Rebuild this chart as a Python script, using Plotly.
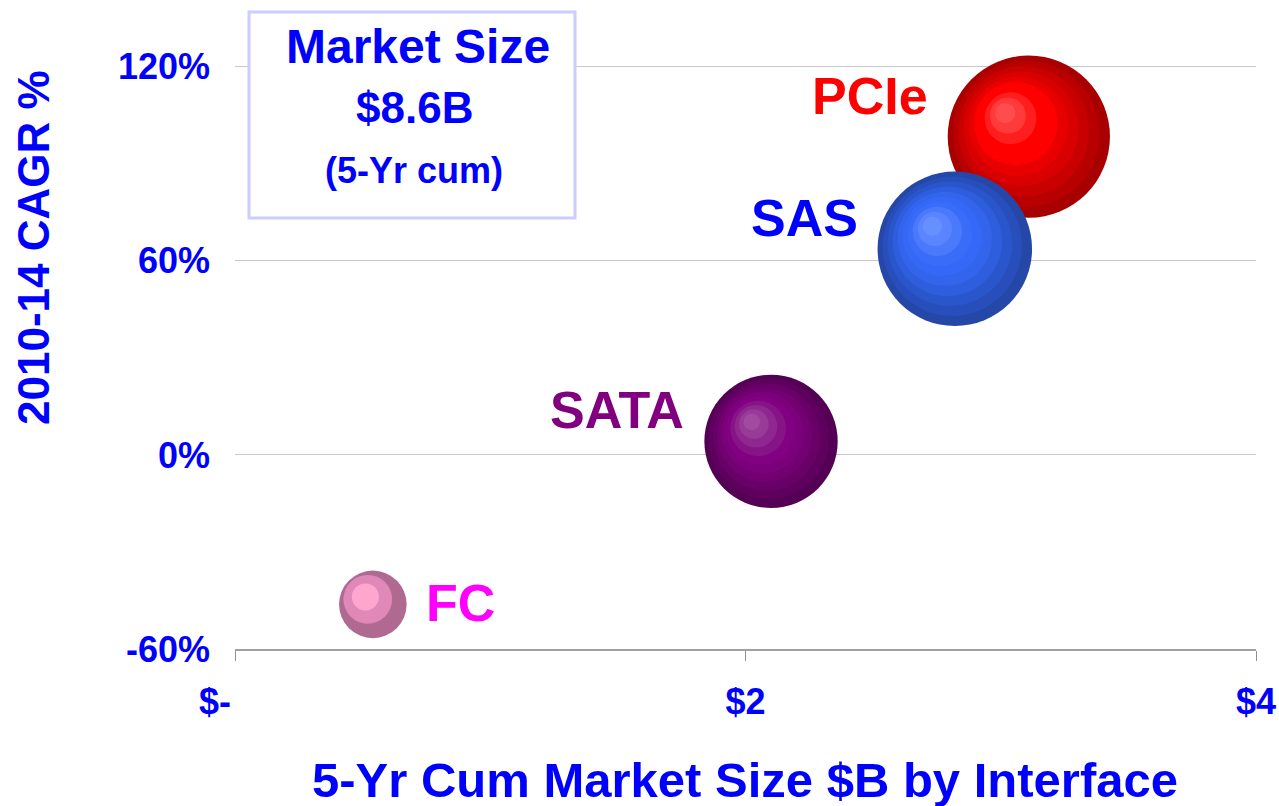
import math
import plotly.graph_objects as go

# ---------------- data ----------------
interfaces = ["PCIe", "SAS", "SATA", "FC"]
market_size_b = [3.11, 2.82, 2.10, 0.54]      # 5-yr cumulative market size, $B (x and bubble size)
cagr_pct = [98.4, 63.7, 4.2, -46.2]           # 2010-14 CAGR, %
x_tickvals = [0, 2, 4]
x_ticktext = ["$-\u00a0\u00a0\u00a0\u00a0", "$2", "$4"]
y_tickvals = [-60, 0, 60, 120]
y_ticktext = ["-60%", "0%", "60%", "120%"]
box_lines = ["Market Size", "$8.6B", "(5-Yr cum)"]

# ---------------- styling ----------------
W, H = 1279, 806
ML, MR, MT, MB = 235, 23, 2, 157
XR = [0, 4]
YR = [-60, 140]
PW, PH = W - ML - MR, H - MT - MB
ppx = PW / (XR[1] - XR[0])          # px per $B
ppy = PH / (YR[1] - YR[0])          # px per %
BLUE = "#0000FF"
FONT = "Arial, Liberation Sans, sans-serif"
RADIUS_K = 46.0                     # px radius per sqrt($B)

ring_colors = {
    "PCIe": ["#A80000", "#B80000", "#C80000", "#D80000", "#E80000", "#FF0000", "#FF0000", "#FF1E1E", "#FF3A3A", "#FF4C4C"],
    "SAS":  ["#2447A8", "#274EBB", "#2A56CC", "#2E5EDD", "#3264EC", "#3568F6", "#3A6CFA", "#4A79FC", "#5A85FE", "#6690FF"],
    "SATA": ["#540054", "#5E005E", "#680068", "#720072", "#7C007C", "#820082", "#861486", "#8E288E", "#983A98", "#A04AA0"],
    "FC":   ["#B06A92", "#E088B8", "#FFA6CF"],
}
ring_frac = {"FC": [1.0, 0.72, 0.40]}
ring_off = {"FC": [0.0, 0.15, 0.22]}
label_colors = {"PCIe": "#FF0000", "SAS": "#0000FF", "SATA": "#800080", "FC": "#FF00FF"}
label_side = {"PCIe": "left", "SAS": "left", "SATA": "left", "FC": "right"}
label_dy = {"PCIe": 41, "SAS": 31, "SATA": 31, "FC": 1}

fig = go.Figure()

for name, xv, yv in zip(interfaces, market_size_b, cagr_pct):
    R = RADIUS_K * math.sqrt(xv)
    cols = ring_colors[name]
    n = len(cols)
    fr = ring_frac.get(name, [1 - (k / (n - 1)) * (1 - 0.125) for k in range(n)])
    off = ring_off.get(name, [0.29 * k / (n - 1) for k in range(n)])
    xs, ys, sz = [], [], []
    for f, o in zip(fr, off):
        xs.append(xv - o * R / ppx)
        ys.append(yv + o * R / ppy)
        sz.append(2 * R * f)
    fig.add_trace(go.Scatter(
        x=xs, y=ys, mode="markers", name=name, showlegend=False, hoverinfo="skip",
        marker=dict(size=sz, sizemode="diameter", color=cols, opacity=1, line=dict(width=0)),
        cliponaxis=False,
    ))
    if label_side[name] == "left":
        fig.add_annotation(x=xv, y=yv, text=name, showarrow=False, xanchor="right", yanchor="middle",
                           xshift=-(R + 18), yshift=label_dy[name],
                           font=dict(family=FONT, size=52, color=label_colors[name], weight="bold"))
    else:
        fig.add_annotation(x=xv, y=yv, text=name, showarrow=False, xanchor="left", yanchor="middle",
                           xshift=(R + 17), yshift=label_dy[name],
                           font=dict(family=FONT, size=52, color=label_colors[name], weight="bold"))


def px_x(px):
    return (px - ML) / PW


def px_y(py):
    return (H - MB - py) / PH


# Market size box
fig.add_shape(type="rect", xref="paper", yref="paper",
              x0=px_x(249), x1=px_x(575), y0=px_y(218), y1=px_y(12),
              line=dict(color="#CCCCFF", width=3), fillcolor="white", layer="above")
for txt, cx, cy, fs in zip(box_lines, [418, 414, 414], [46, 108, 170], [48, 44, 36]):
    fig.add_annotation(xref="paper", yref="paper", x=px_x(cx), y=px_y(cy), text=txt,
                       showarrow=False, xanchor="center", yanchor="middle",
                       font=dict(family=FONT, size=fs, color=BLUE, weight="bold"))

# Axis titles
fig.add_annotation(xref="paper", yref="paper", x=px_x(745), y=px_y(780),
                   text="5-Yr Cum Market Size $B by Interface", showarrow=False,
                   xanchor="center", yanchor="middle",
                   font=dict(family=FONT, size=49, color=BLUE, weight="bold"))
fig.add_annotation(xref="paper", yref="paper", x=px_x(33), y=px_y(248),
                   text="2010-14 CAGR %", showarrow=False, textangle=-90,
                   xanchor="center", yanchor="middle",
                   font=dict(family=FONT, size=44, color=BLUE, weight="bold"))

fig.update_layout(
    width=W, height=H,
    margin=dict(l=ML, r=MR, t=MT, b=MB),
    paper_bgcolor="white", plot_bgcolor="white",
    showlegend=False,
    xaxis=dict(range=XR, tickvals=x_tickvals, ticktext=x_ticktext, showgrid=False, zeroline=False,
               showline=True, linecolor="#A0A0A0", linewidth=2, ticks="outside", ticklen=10,
               tickcolor="#909090", tickwidth=1, ticklabelstandoff=10,
               tickfont=dict(family=FONT, size=36, color=BLUE, weight="bold")),
    yaxis=dict(range=YR, tickvals=y_tickvals, ticktext=y_ticktext, showgrid=True, gridcolor="#C8C8C8",
               gridwidth=1, zeroline=False, showline=False, ticks="", ticklabelstandoff=24,
               tickfont=dict(family=FONT, size=36, color=BLUE, weight="bold")),
)

fig.write_html("out.html", config={"displayModeBar": False},
               post_script="document.body.style.margin='0px';document.body.style.overflow='hidden';")
